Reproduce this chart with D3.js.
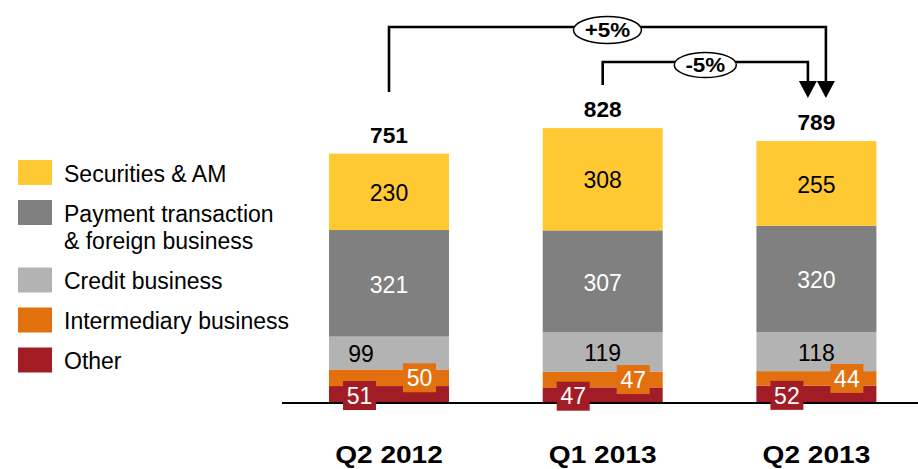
<!DOCTYPE html>
<html>
<head>
<meta charset="utf-8">
<script src="https://cdn.jsdelivr.net/npm/d3@7"></script>
<style>
  html, body { margin: 0; padding: 0; background: #fff; }
  svg { display: block; font-family: "Liberation Sans", Arial, Helvetica, sans-serif; }
</style>
</head>
<body>
<svg id="chart" width="918" height="469"></svg>
<script>
// Quarters on the x axis
const quarters = ["Q2 2012", "Q1 2013", "Q2 2013"];

// Commission income by source (EUR m), stacked bottom to top
const other        = [51, 47, 52];
const intermediary = [50, 47, 44];
const credit       = [99, 119, 118];
const payment      = [321, 307, 320];
const securities   = [230, 308, 255];

// Totals printed above the bars
const totals = [751, 828, 789];

// Change annotations: from quarter index -> to quarter index
const changes = [
  { from: 0, to: 2, label: "+5%" },
  { from: 1, to: 2, label: "-5%" }
];

// Series definitions (legend order = top of stack first)
const seriesKeys   = ["securities", "payment", "credit", "intermediary", "other"];
const seriesNames  = [["Securities & AM"], ["Payment transaction", "& foreign business"], ["Credit business"], ["Intermediary business"], ["Other"]];
const seriesColors = ["#FFC933", "#808080", "#B3B3B3", "#E2700E", "#A21C26"];

// ---- layout -----------------------------------------------------------
const W = 918, H = 469;
const baseY = 403;
const FONT_REG = 23, FONT_BOLD = 22;

const svg = d3.select("#chart");

const rows = quarters.map((q, i) => ({
  quarter: q,
  other: other[i],
  intermediary: intermediary[i],
  credit: credit[i],
  payment: payment[i],
  securities: securities[i],
  total: totals[i]
}));

const stackOrder = ["other", "intermediary", "credit", "payment", "securities"];
const stacked = d3.stack().keys(stackOrder)(rows);
const color = d3.scaleOrdinal().domain(seriesKeys).range(seriesColors);

const x = d3.scaleBand()
  .domain(quarters)
  .range([329, 876.4])
  .paddingInner(0.4385)
  .paddingOuter(0);

const y = d3.scaleLinear()
  .domain([0, 828])
  .range([baseY, baseY - 828 * 0.332]);

// text helper (optional horizontal stretch)
function putText(parent, str, tx, ty, opts) {
  const k = opts.k || 1;
  return parent.append("text")
    .attr("transform", `translate(${tx},${ty}) scale(${k},1)`)
    .attr("text-anchor", opts.anchor || "middle")
    .attr("font-size", opts.size || FONT_REG)
    .attr("font-weight", opts.bold ? "bold" : "normal")
    .attr("letter-spacing", opts.spacing || 0)
    .attr("fill", opts.fill || "#000")
    .text(str);
}

// ---- bars -------------------------------------------------------------
const barG = svg.append("g");
barG.selectAll("g.series")
  .data(stacked)
  .join("g")
  .attr("class", "series")
  .attr("fill", d => color(d.key))
  .selectAll("rect")
  .data(d => d)
  .join("rect")
  .attr("x", d => x(d.data.quarter))
  .attr("y", d => y(d[1]))
  .attr("width", x.bandwidth())
  .attr("height", d => y(d[0]) - y(d[1]));

// baseline
svg.append("line")
  .attr("x1", 282).attr("x2", W)
  .attr("y1", baseY).attr("y2", baseY)
  .attr("stroke", "#000").attr("stroke-width", 2);

// ---- value labels -----------------------------------------------------
const labelG = svg.append("g");
const capShift = FONT_REG * 0.358;
const creditShift = [-28, 0, 0];

stacked.forEach(layer => {
  layer.forEach((d, i) => {
    const v = d.data[layer.key];
    const x0 = x(d.data.quarter), bw = x.bandwidth();
    const cy = (y(d[0]) + y(d[1])) / 2;
    if (layer.key === "securities" || layer.key === "payment" || layer.key === "credit") {
      const fill = layer.key === "payment" ? "#fff" : "#000";
      const dx = layer.key === "credit" ? creditShift[i] : 0;
      putText(labelG, v, x0 + bw / 2 + dx, cy + capShift + 1, { fill });
    } else {
      // small segments: boxed labels in the segment colour
      const bwBox = 33, bhBox = 29;
      const bx = layer.key === "other" ? x0 + 14 : x0 + bw - 13 - bwBox;
      const by = cy - bhBox / 2 + (layer.key === "other" ? 1 : 0);
      labelG.append("rect")
        .attr("x", bx).attr("y", by)
        .attr("width", bwBox).attr("height", bhBox)
        .attr("fill", color(layer.key));
      putText(labelG, v, bx + bwBox / 2, by + bhBox / 2 + capShift, { fill: "#fff" });
    }
  });
});

// totals
rows.forEach(r => {
  putText(labelG, r.total, x(r.quarter) + x.bandwidth() / 2, y(r.total) - 11,
    { bold: true, size: FONT_BOLD, k: 1.03 });
});

// category labels
quarters.forEach(q => {
  putText(svg, q, x(q) + x.bandwidth() / 2, 463,
    { bold: true, size: 24, k: 1.17 });
});

// ---- change annotations ----------------------------------------------
const annG = svg.append("g");
const barCenter = i => x(quarters[i]) + x.bandwidth() / 2;
const annLevels = [
  { lineY: 27, startY: 92, endDx: 9.5 },
  { lineY: 62, startY: 85, endDx: -8.5 }
];
const tipY = 98, headH = 17, headW = 18;

changes.forEach((c, j) => {
  const lv = annLevels[j];
  const xa = barCenter(c.from), xb = barCenter(c.to) + lv.endDx;
  annG.append("path")
    .attr("d", `M${xa},${lv.startY} V${lv.lineY} H${xb} V${tipY - headH + 1}`)
    .attr("fill", "none")
    .attr("stroke", "#000")
    .attr("stroke-width", 2.6);
  annG.append("path")
    .attr("d", `M${xb - headW / 2},${tipY - headH} L${xb + headW / 2},${tipY - headH} L${xb},${tipY} Z`)
    .attr("fill", "#000");
  const mx = (xa + xb) / 2;
  const rx = j === 0 ? 34 : 31, ry = j === 0 ? 13.5 : 12.5;
  annG.append("ellipse")
    .attr("cx", mx).attr("cy", lv.lineY + 3)
    .attr("rx", rx).attr("ry", ry)
    .attr("fill", "#fff")
    .attr("stroke", "#000")
    .attr("stroke-width", 1.5);
  putText(annG, c.label, mx, lv.lineY + 3 + 7, { bold: true, size: 20, k: 1.12 });
});

// ---- legend -----------------------------------------------------------
const legG = svg.append("g");
let rowTop = 160;
seriesKeys.forEach((k, i) => {
  legG.append("rect")
    .attr("x", 18).attr("y", rowTop)
    .attr("width", 34).attr("height", 25)
    .attr("fill", seriesColors[i]);
  seriesNames[i].forEach((line, li) => {
    putText(legG, line, 64, rowTop + 21.5 + li * 27, { anchor: "start" });
  });
  rowTop += 40 + (seriesNames[i].length - 1) * 27.5;
});
</script>
</body>
</html>
